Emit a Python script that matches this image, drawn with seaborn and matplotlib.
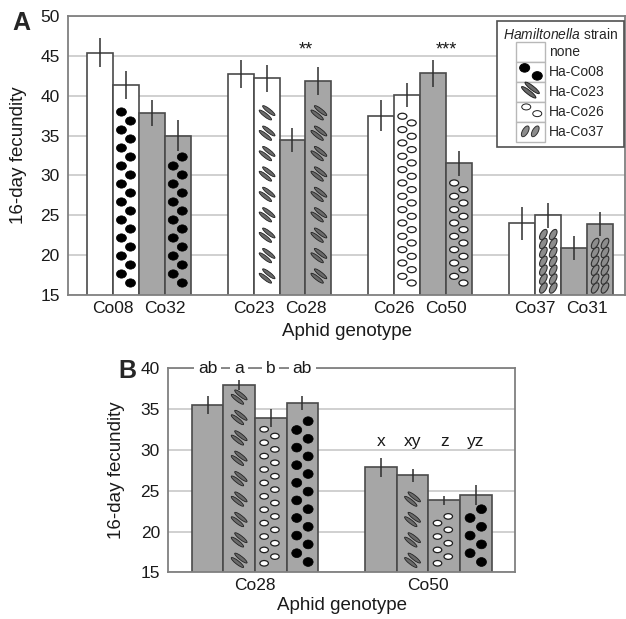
import numpy as np
import pandas as pd
import matplotlib
matplotlib.use("Agg")
import matplotlib.pyplot as plt
import seaborn as sns
from matplotlib.collections import EllipseCollection
from matplotlib.patches import Rectangle, Ellipse
from matplotlib.legend_handler import HandlerBase

# ---------------- data: panel A ----------------
a_pairs = ["Co08 / Co32", "Co23 / Co28", "Co26 / Co50", "Co37 / Co31"]
a_slots = ["first, none", "first, infected", "second, none", "second, infected"]
a_aphid = ["Co08", "Co08", "Co32", "Co32", "Co23", "Co23", "Co28", "Co28",
           "Co26", "Co26", "Co50", "Co50", "Co37", "Co37", "Co31", "Co31"]
a_strain = ["none", "Ha-Co08", "none", "Ha-Co08", "none", "Ha-Co23", "none", "Ha-Co23",
            "none", "Ha-Co26", "none", "Ha-Co26", "none", "Ha-Co37", "none", "Ha-Co37"]
a_fecundity = [45.4, 41.4, 37.8, 35.0, 42.7, 42.2, 34.5, 41.9,
               37.5, 40.1, 42.8, 31.5, 24.0, 25.0, 20.9, 23.9]
a_se = [1.85, 1.75, 1.65, 1.95, 1.75, 1.7, 1.5, 1.75,
        1.95, 1.55, 1.7, 1.55, 2.05, 1.6, 1.55, 1.5]
a_tick_labels = ["Co08", "Co32", "Co23", "Co28", "Co26", "Co50", "Co37", "Co31"]
a_signif = ["", "", "", "**", "", "***", "", ""]
legend_strains = ["none", "Ha-Co08", "Ha-Co23", "Ha-Co26", "Ha-Co37"]

# ---------------- data: panel B ----------------
b_aphid = ["Co28"] * 4 + ["Co50"] * 4
b_strain = ["none", "Ha-Co23", "Ha-Co26", "Ha-Co08"] * 2
b_fecundity = [35.5, 38.0, 33.95, 35.75, 27.85, 26.9, 23.85, 24.5]
b_se = [1.1, 0.65, 1.1, 0.8, 1.2, 0.8, 0.55, 1.2]
b_letters = ["ab", "a", "b", "ab", "x", "xy", "z", "yz"]

# ---------------- style ----------------
sns.set_style("white")
plt.rcParams["font.family"] = ["Liberation Sans", "DejaVu Sans"]
plt.rcParams["mathtext.fontset"] = "custom"
plt.rcParams["mathtext.it"] = "Liberation Sans:italic"
plt.rcParams["mathtext.rm"] = "Liberation Sans"

WHITE = "#ffffff"
GRAY = "#a6a6a6"
EDGE = "#4a4a4a"
SPINE = "#808080"
GRID = "#c8c8c8"
TXT = "#1a1a1a"

# Ha-Co23 element: two thin parallel ellipses, offset perpendicular to their axis
_p = 2.8
_ox, _oy = _p * np.cos(np.radians(52)), _p * np.sin(np.radians(52))
CO23 = [(-_ox, -_oy, 15.5, 3.6, -38), (_ox, _oy, 15.5, 3.6, -38)]

# pattern specs (pixel units): anchors stacked from bar bottom
pat_A = {
    "Ha-Co08": dict(cols=(0.33, 0.68), stagger=True, first=1, bottom=12, step=9.0, margin=19.5,
                    shapes=[(0, 0, 10, 8.3, 0)], fc="black", ec="black", lw=0.5),
    "Ha-Co23": dict(cols=(0.52,), stagger=False, first=0, bottom=19, step=20.4, margin=25,
                    shapes=CO23, fc="#6a6a6a", ec="#222222", lw=0.6),
    "Ha-Co26": dict(cols=(0.31, 0.67), stagger=True, first=1, bottom=12, step=6.67, margin=16,
                    shapes=[(0, 0, 9, 6, 0)], fc="white", ec="#1e1e1e", lw=0.9),
    "Ha-Co37": dict(cols=(0.32, 0.70), stagger=False, first=0, bottom=7, step=8.9, margin=15,
                    shapes=[(0, 0, 11.5, 5.8, 60)], fc="#8c8c8c", ec="#303030", lw=0.8),
}
pat_B = {
    "Ha-Co08": dict(cols=(0.32, 0.68), stagger=True, first=1, bottom=10.3, step=8.8, margin=14,
                    shapes=[(0, 0, 10, 8.8, 0)], fc="black", ec="black", lw=0.5),
    "Ha-Co23": dict(cols=(0.5,), stagger=False, first=0, bottom=12, step=20.4, margin=10,
                    shapes=CO23, fc="#6a6a6a", ec="#222222", lw=0.6),
    "Ha-Co26": dict(cols=(0.29, 0.63), stagger=True, first=0, bottom=9, step=6.7, margin=10,
                    shapes=[(0, 0, 8.5, 5.5, 0)], fc="white", ec="#1e1e1e", lw=0.9),
}
legend_shapes = {
    "none": [],
    "Ha-Co08": [(-5.8, 3.7, 10, 8.5, 0, "black", "black"), (6.8, -4.3, 10, 8.5, 0, "black", "black")],
    "Ha-Co23": [(-_ox, 1.5 - _oy, 18, 4.0, -38, "#6a6a6a", "#222222"),
                (_ox, 1.5 + _oy, 18, 4.0, -38, "#6a6a6a", "#222222")],
    "Ha-Co26": [(-4.2, 4.7, 9, 6, 0, "white", "#1e1e1e"), (6.8, -2.0, 9, 6, 0, "white", "#1e1e1e")],
    "Ha-Co37": [(-5.2, 0.3, 12, 5.6, 60, "#8c8c8c", "#303030"), (4.8, 0.3, 12, 5.6, 60, "#8c8c8c", "#303030")],
}


def add_patterns(ax, bars, strains, spec):
    inv = ax.transData.inverted()
    ylo = ax.get_ylim()[0]
    for bar, s in zip(bars, strains):
        if s not in spec:
            continue
        p = spec[s]
        xl, xr = bar.get_x(), bar.get_x() + bar.get_width()
        yb = max(bar.get_y(), ylo)
        yt = bar.get_y() + bar.get_height()
        (px0, py0), (px1, py1) = ax.transData.transform([(xl, yb), (xr, yt)])
        w = px1 - px0
        anchors = []
        k = 0
        while py0 + p["bottom"] + k * p["step"] <= py1 - p["margin"]:
            y = py0 + p["bottom"] + k * p["step"]
            if p["stagger"]:
                anchors.append((px0 + p["cols"][(p["first"] + k) % 2] * w, y))
            else:
                anchors += [(px0 + c * w, y) for c in p["cols"]]
            k += 1
        if not anchors:
            continue
        for dx, dy, ew, eh, ang in p["shapes"]:
            pts = np.array([(x + dx, y + dy) for x, y in anchors])
            n = len(pts)
            coll = EllipseCollection(np.full(n, ew), np.full(n, eh), np.full(n, ang), units="dots",
                                     offsets=inv.transform(pts), offset_transform=ax.transData,
                                     facecolors=p["fc"], edgecolors=p["ec"], linewidths=p["lw"],
                                     zorder=2.5)
            ax.add_collection(coll, autolim=False)


class PatternHandler(HandlerBase):
    def __init__(self, strain):
        super().__init__()
        self.strain = strain

    def create_artists(self, legend, orig_handle, xdescent, ydescent, width, height, fontsize, trans):
        arts = [Rectangle((-xdescent, -ydescent), width, height, facecolor="white",
                          edgecolor="#b8b8b8", lw=1.0, transform=trans)]
        cx = -xdescent + width / 2
        cy = -ydescent + height / 2
        f = 0.72  # px -> pt at 100 dpi
        for ox, oy, w, h, ang, fc, ec in legend_shapes[self.strain]:
            arts.append(Ellipse((cx + ox * f, cy + oy * f), w * f, h * f, angle=ang,
                                facecolor=fc, edgecolor=ec, lw=0.7, transform=trans))
        return arts


def style_axes(ax, ymin, ymax):
    ax.set_ylim(ymin, ymax)
    ax.set_yticks(np.arange(ymin, ymax + 1, 5))
    ax.yaxis.grid(True, color=GRID, lw=1.2)
    ax.xaxis.grid(False)
    ax.set_axisbelow(True)
    for sp in ax.spines.values():
        sp.set_visible(True)
        sp.set_color(SPINE)
        sp.set_linewidth(1.3)
    ax.tick_params(axis="both", length=0, labelsize=12.5, colors=TXT)
    ax.tick_params(axis="y", pad=6)
    ax.tick_params(axis="x", pad=4)


fig = plt.figure(figsize=(6.26, 6.19), dpi=100)

# ================= Panel A =================
axA = fig.add_axes([68 / 626, 1 - 295 / 619, (625 - 68) / 626, 279 / 619])
dfA = pd.DataFrame({
    "pair": np.repeat(a_pairs, 4),
    "slot": a_slots * 4,
    "aphid": a_aphid,
    "strain": a_strain,
    "fecundity": a_fecundity,
})
sns.barplot(data=dfA, x="pair", y="fecundity", hue="slot", hue_order=a_slots,
            palette=[WHITE, WHITE, GRAY, GRAY], saturation=1, width=0.736, errorbar=None,
            edgecolor=EDGE, linewidth=1.2, legend=False, ax=axA)
style_axes(axA, 15, 50)
axA.set_xlim(-0.503, 3.455)
barsA = sorted(axA.patches, key=lambda p: p.get_x())
xA = np.array([b.get_x() + b.get_width() / 2 for b in barsA])
wA = barsA[0].get_width()
axA.errorbar(xA, a_fecundity, yerr=a_se, fmt="none", ecolor="#2e2e2e", elinewidth=1.1,
             capsize=0, zorder=4)
add_patterns(axA, barsA, a_strain, pat_A)

tickA = [barsA[i].get_x() + wA for i in range(0, 16, 2)]
axA.set_xticks(tickA)
axA.set_xticklabels(a_tick_labels)
for tx, mark in zip(tickA, a_signif):
    if mark:
        axA.text(tx, 45.2, mark, ha="center", va="baseline", fontsize=13, color=TXT, zorder=5)
axA.set_xlabel("Aphid genotype", fontsize=13.5, color=TXT)
axA.set_ylabel("16-day fecundity", fontsize=13.5, color=TXT)
axA.xaxis.set_label_coords(0.5, -0.100)
axA.yaxis.set_label_coords(-0.074, 0.5)

handles = [Rectangle((0, 0), 1, 1) for _ in legend_strains]
leg = axA.legend(handles, legend_strains, handler_map={h: PatternHandler(s) for h, s in zip(handles, legend_strains)},
                 title=r"$\it{Hamiltonella}$ strain", loc="upper right",
                 bbox_to_anchor=(0.998, 0.983), borderaxespad=0, fontsize=10, title_fontsize=10,
                 handlelength=2.09, handleheight=1.84, labelspacing=0.0, handletextpad=0.3,
                 borderpad=0.42, frameon=True, fancybox=False, framealpha=1)
leg.get_frame().set_edgecolor("#505050")
leg.get_frame().set_linewidth(1.2)
leg.set_zorder(6)

# ================= Panel B =================
axB = fig.add_axes([168.3 / 626, 1 - 572.3 / 619, 346.7 / 626, 204 / 619])
dfB = pd.DataFrame({"aphid": b_aphid, "strain": b_strain, "fecundity": b_fecundity})
sns.barplot(data=dfB, x="aphid", y="fecundity", hue="strain", hue_order=b_strain[:4],
            palette=[GRAY] * 4, saturation=1, width=0.73, errorbar=None,
            edgecolor=EDGE, linewidth=1.2, legend=False, ax=axB)
style_axes(axB, 15, 40)
axB.set_xlim(-0.5, 1.5)
barsB = sorted(axB.patches, key=lambda p: p.get_x())
xB = np.array([b.get_x() + b.get_width() / 2 for b in barsB])
axB.errorbar(xB, b_fecundity, yerr=b_se, fmt="none", ecolor="#2e2e2e", elinewidth=1.1,
             capsize=0, zorder=4)
add_patterns(axB, barsB, b_strain, pat_B)
letter_y = [39.42] * 4 + [30.48] * 4
for tx, ty, lab in zip(xB, letter_y, b_letters):
    axB.text(tx, ty, lab, ha="center", va="baseline", fontsize=12.5, color=TXT, zorder=6,
             bbox=dict(facecolor="white", edgecolor="none", pad=2.8) if ty > 39 else None,
             clip_on=False)
axB.set_xlabel("Aphid genotype", fontsize=13.5, color=TXT)
axB.set_ylabel("16-day fecundity", fontsize=13.5, color=TXT)
axB.xaxis.set_label_coords(0.5, -0.121)
axB.yaxis.set_label_coords(-0.125, 0.5)

# panel letters
fig.text(12 / 626, 1 - 30 / 619, "A", fontsize=18, fontweight="bold", ha="left", va="baseline")
fig.text(118 / 626, 1 - 378 / 619, "B", fontsize=18, fontweight="bold", ha="left", va="baseline")

fig.savefig("out.png", dpi=100)
